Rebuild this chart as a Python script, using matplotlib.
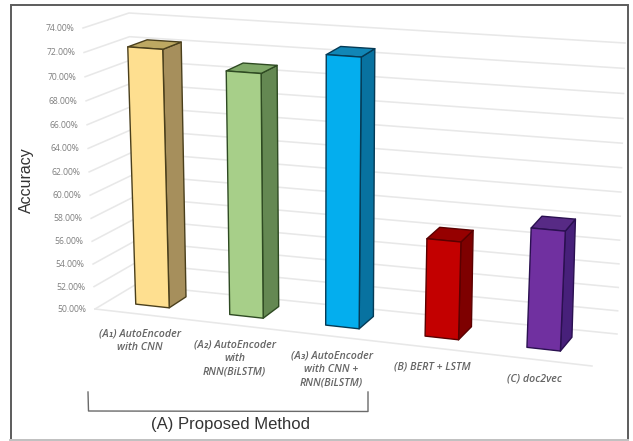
import matplotlib
matplotlib.use("Agg")
import matplotlib.pyplot as plt
from matplotlib.patches import Polygon, Rectangle
import numpy as np

# Chart data
categories = ["(A\u2081) AutoEncoder\nwith CNN",
              "(A\u2082) AutoEncoder\nwith\nRNN(BiLSTM)",
              "(A\u2083) AutoEncoder\nwith CNN +\nRNN(BiLSTM)",
              "(B) BERT + LSTM",
              "(C) doc2vec"]
accuracy = [72.2, 70.8, 72.7, 58.3, 60.0]
tick_values = [50, 52, 54, 56, 58, 60, 62, 64, 66, 68, 70, 72, 74]
front_colors = ["#FEDF90", "#A7CF89", "#04AEEE", "#C30000", "#7030A0"]
side_colors = ["#A68F5C", "#648852", "#0872A0", "#7E0000", "#47207A"]
top_colors = ["#BDA862", "#7FA868", "#1186B6", "#960000", "#572A85"]
edge_colors = ["#4A3F1C", "#2E4A22", "#053A55", "#5A0000", "#2A1050"]
bar_slots = [0.090, 0.281, 0.476, 0.678, 0.885]

# Corners of the 3D plot box on the canvas: (along x, into depth, up)
CORNERS = {
    (0, 0, 0): (95, 309), (1, 0, 0): (592, 366),
    (0, 1, 0): (135, 285), (1, 1, 0): (617, 334),
    (0, 0, 1): (83, 28), (1, 0, 1): (609, 65),
    (0, 1, 1): (129, 13), (1, 1, 1): (625, 43),
}
VMIN, VMAX = 50.0, 74.0
RISE_SKEW = 1.05


def project(s, d, value):
    """Map box coordinates (s, depth, accuracy) to canvas coordinates."""
    t = (value - VMIN) / (VMAX - VMIN)
    t = t / (t + RISE_SKEW * (1 - t))
    x = y = 0.0
    for (i, j, k), (px, py) in CORNERS.items():
        w = (s if i else 1 - s) * (d if j else 1 - d) * (t if k else 1 - t)
        x += w * px
        y += w * py
    return x, y


fig = plt.figure(figsize=(6.33, 4.41), dpi=100)
ax = fig.add_axes([0, 0, 1, 1])
ax.set_xlim(0, 633)
ax.set_ylim(441, 0)
ax.axis("off")

# Panel frame
ax.add_patch(Rectangle((10.5, 4.5), 617, 435, fill=False, ec="#5c5c5c", lw=1.4, zorder=1))
ax.plot([10, 628], [439.5, 439.5], color="#c4c4c4", lw=1.4, zorder=1.1)

# Gridlines on the side wall and back wall, with tick labels
GRID = "#e8e8e8"
for v in tick_values:
    a, b, c = project(0, 0, v), project(0, 1, v), project(1, 1, v)
    ax.plot([a[0], b[0], c[0]], [a[1], b[1], c[1]], color=GRID, lw=1.15, zorder=2)
    ax.text(a[0] - 9, a[1] + 0.5, f"{v:.2f}%", ha="right", va="center",
            fontsize=6.2, color="#7f7f7f", family="Open Sans", zorder=3)
f0, f1 = project(0, 0, VMIN), project(1, 0, VMIN)
ax.plot([f0[0], f1[0]], [f0[1], f1[1]], color=GRID, lw=1.15, zorder=2)

# Bars: front, side and top faces
BAR_WIDTH = 0.068
D0, D1 = 0.33, 0.77
for i, (val, slot, fc, sc, tc, ec) in enumerate(zip(accuracy, bar_slots, front_colors,
                                                    side_colors, top_colors, edge_colors)):
    s0, s1 = slot - BAR_WIDTH / 2, slot + BAR_WIDTH / 2
    front = [project(s0, D0, VMIN), project(s1, D0, VMIN), project(s1, D0, val), project(s0, D0, val)]
    side = [project(s1, D0, VMIN), project(s1, D1, VMIN), project(s1, D1, val), project(s1, D0, val)]
    top = [project(s0, D0, val), project(s1, D0, val), project(s1, D1, val), project(s0, D1, val)]
    for face, col in ((side, sc), (top, tc), (front, fc)):
        ax.add_patch(Polygon(face, closed=True, fc=col, ec=ec, lw=1.0, joinstyle="round", zorder=4 + i))
    # Category label below the floor edge
    lx, ly = project(slot, 0, VMIN)
    ax.text(lx, ly + 14, categories[i], ha="center", va="top", fontsize=7.7, style="italic",
            fontweight="semibold", color="#666666", family=["Open Sans", "DejaVu Sans"],
            linespacing=1.34, zorder=10)

# Axis title and the group bracket
ax.text(26, 180, "Accuracy", rotation=90, ha="center", va="center", fontsize=11.5,
        color="#333333", family="Liberation Sans")
ax.plot([88, 88.5, 368, 368], [392, 411, 411.5, 392], color="#6a6a6a", lw=1.0, zorder=3)
ax.text(230.5, 425, "(A) Proposed Method", ha="center", va="center", fontsize=12,
        color="#333333", family="Liberation Sans")

fig.savefig("out.png", dpi=100)
